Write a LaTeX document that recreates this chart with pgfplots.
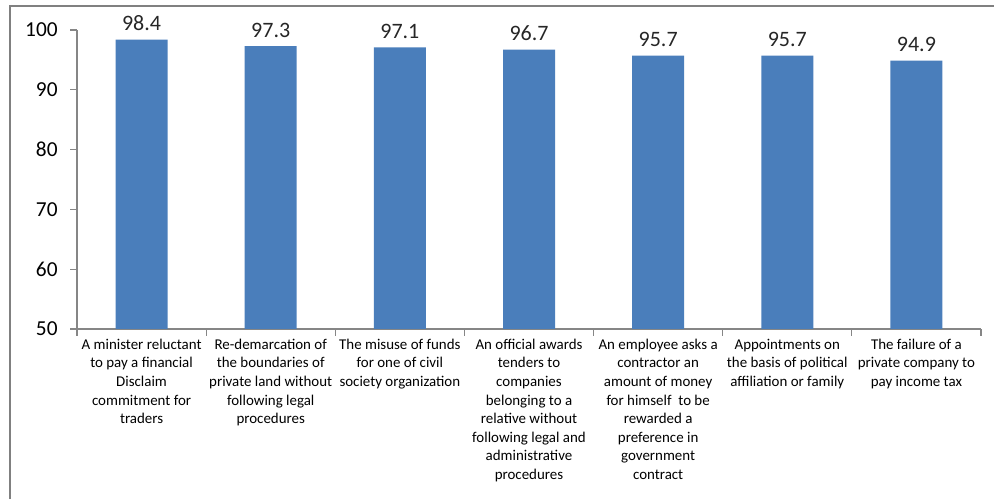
\documentclass[border=0pt]{standalone}
\usepackage{fontspec}
\setmainfont{Carlito}
\usepackage{pgfplots}
\pgfplotsset{compat=1.18}
\definecolor{barblue}{HTML}{4A7EBB}
\definecolor{axisgray}{HTML}{868686}
\definecolor{framegray}{HTML}{808080}
\begin{document}
\begin{tikzpicture}
% page = 994 x 499 px at 0.75pt per px
\path[use as bounding box] (0pt,0pt) rectangle (745.5pt,374.25pt);
\draw[framegray, line width=1.1pt] (7.5pt,0pt) -- (7.5pt,369.75pt) -- (745.5pt,369.75pt);
\begin{axis}[
  at={(57.75pt,127.5pt)}, anchor=south west,
  width=678pt, height=224.25pt, scale only axis,
  ybar, bar width=39pt,
  xmin=-0.5, xmax=6.5,
  ymin=50, ymax=100, ytick={50,60,...,100},
  axis lines=left, axis line style={-, draw=axisgray, line width=0.8pt},
  tick align=outside, major tick length=5pt, minor tick length=5pt,
  major x tick style={draw=none},
  minor x tick style={draw=axisgray, line width=0.8pt},
  ytick style={draw=axisgray, line width=0.8pt},
  xtick={0,...,6},
  minor xtick={-0.5,0.5,...,6.5},
  xticklabels={
    {A minister reluctant\\to pay a financial\\Disclaim\\commitment for\\traders},
    {Re-demarcation of\\the boundaries of\\private land without\\following legal\\procedures},
    {The misuse of funds\\for one of civil\\society organization},
    {An official awards\\tenders to\\companies\\belonging to a\\relative without\\following legal and\\administrative\\procedures},
    {An employee asks a\\contractor an\\amount of money\\for himself\ \ to be\\rewarded a\\preference in\\government\\contract},
    {Appointments on\\the basis of political\\affiliation or family},
    {The failure of a\\private company to\\pay income tax}},
  xticklabel style={align=center, anchor=north, font=\fontsize{11.2}{13.9}\selectfont, text=black, yshift=1pt},
  yticklabel style={font=\fontsize{16}{18}\selectfont, text=black, xshift=-6pt},
  /pgf/number format/assume math mode=true,
  point meta=explicit symbolic,
  nodes near coords,
  every node near coord/.append style={font=\fontsize{16.5}{18}\selectfont, text=black!85, yshift=3pt},
  clip=false,
]
\addplot[fill=barblue, draw=none] coordinates {
  (0,98.4) [98.4]
  (1,97.3) [97.3]
  (2,97.1) [97.1]
  (3,96.7) [96.7]
  (4,95.7) [95.7]
  (5,95.7) [95.7]
  (6,94.9) [94.9]
};
\end{axis}
\end{tikzpicture}
\end{document}
